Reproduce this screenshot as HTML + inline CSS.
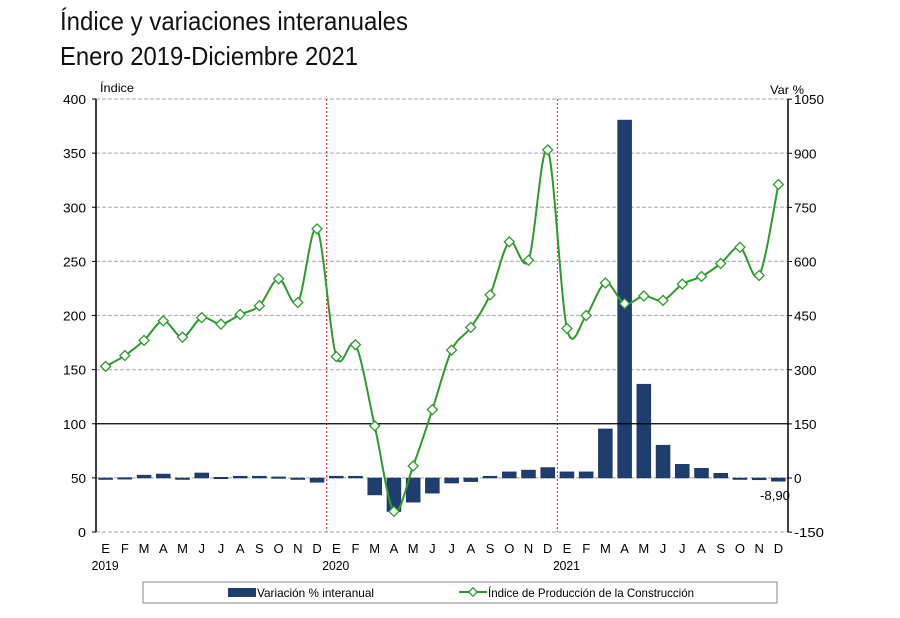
<!DOCTYPE html>
<html><head><meta charset="utf-8"><style>
html,body{margin:0;padding:0;background:#fff;}
svg{display:block;font-family:"Liberation Sans",Arial,sans-serif;}
</style></head><body>
<svg id="c" width="900" height="618" viewBox="0 0 900 618" xmlns="http://www.w3.org/2000/svg">
<text x="60" y="30" font-size="26" textLength="348" lengthAdjust="spacingAndGlyphs" fill="#111">Índice y variaciones interanuales</text>
<text x="60" y="65" font-size="26" textLength="298" lengthAdjust="spacingAndGlyphs" fill="#111">Enero 2019-Diciembre 2021</text>
<text x="100" y="92" font-size="12" textLength="34" lengthAdjust="spacingAndGlyphs">Índice</text>
<text x="770" y="94" font-size="12" textLength="34" lengthAdjust="spacingAndGlyphs">Var %</text>
<g id="g"></g>
</svg>
<script>
var ns="http://www.w3.org/2000/svg",g=document.getElementById('g');
function el(t,a,txt){var e=document.createElementNS(ns,t);for(var k in a)e.setAttribute(k,a[k]);if(txt!=null)e.textContent=txt;g.appendChild(e);return e;}
var X0=96,X1=788,W=(X1-X0)/36;
function yl(v){return 532-v*433/400;}
function yr(v){return 478-v*433/1200;}
function cx(i){return X0+W*(i+0.5);}
for(var v=0;v<=400;v+=50){
 if(v!=100)el('line',{x1:X0,x2:X1,y1:yl(v),y2:yl(v),stroke:'#b8b8b8','stroke-width':1.2,'stroke-dasharray':'4,2'});
 el('text',{x:86,y:yl(v)+5,'font-size':13,'text-anchor':'end',textLength:(v<100?(v==0?8:15):23),lengthAdjust:'spacingAndGlyphs'},String(v));
 el('line',{x1:X0-4,x2:X0,y1:yl(v),y2:yl(v),stroke:'#000'});
}
for(var r=-150;r<=1050;r+=150){
 el('text',{x:794,y:yr(r)+5,'font-size':13,textLength:(String(r).length*7.5),lengthAdjust:'spacingAndGlyphs'},String(r));
 el('line',{x1:X1,x2:X1+4,y1:yr(r),y2:yr(r),stroke:'#000'});
}
[12,24].forEach(function(i){var x=X0+W*i;el('line',{x1:x,x2:x,y1:99,y2:532,stroke:'#e02020','stroke-width':1,'stroke-dasharray':'2,2'});});
var b=[0,1,8,11,0,14,2,5,5,3,-4,-12, 5,5,-47,-93,-67,-42,-14,-10,5,17,22,29, 17,17,136,992,260,91,38,27,13,-2,-5,-8.9];
b.forEach(function(v,i){var y1=yr(Math.max(v,0)),y2=yr(Math.min(v,0));var h=Math.max(y2-y1,1.5);
 el('rect',{x:cx(i)-7,y:y1,width:14,height:h,fill:'#1f3d6e',stroke:'#15305a','stroke-width':0.5});});
el('line',{x1:X0,x2:X1,y1:yl(100),y2:yl(100),stroke:'#000','stroke-width':1.3});
el('line',{x1:X0,x2:X0,y1:99,y2:532,stroke:'#000','stroke-width':1.5});
el('line',{x1:X1,x2:X1,y1:99,y2:532,stroke:'#000','stroke-width':1.5});
var L=[153,163,177,195,180,198,192,201,209,234,212,280, 162,173,98,19,61,113,168,189,219,268,251,353, 188,200,230,211,218,214,229,236,248,263,237,321];
var P=L.map(function(v,i){return [cx(i),yl(v)];});
var d='M'+P[0][0]+','+P[0][1];
for(var i=0;i<P.length-1;i++){var p0=P[Math.max(i-1,0)],p1=P[i],p2=P[i+1],p3=P[Math.min(i+2,P.length-1)];var t=0.16;
 d+=' C'+(p1[0]+(p2[0]-p0[0])*t)+','+(p1[1]+(p2[1]-p0[1])*t)+' '+(p2[0]-(p3[0]-p1[0])*t)+','+(p2[1]-(p3[1]-p1[1])*t)+' '+p2[0]+','+p2[1];}
el('path',{d:d,fill:'none',stroke:'#2e9a2e','stroke-width':2});
P.forEach(function(p){el('rect',{x:p[0]-3.5,y:p[1]-3.5,width:7,height:7,fill:'#fff',stroke:'#2e9a2e','stroke-width':1.3,transform:'rotate(45 '+p[0]+' '+p[1]+')'});});
el('text',{x:760,y:500,'font-size':13,textLength:30,lengthAdjust:'spacingAndGlyphs'},'-8,90');
var m='EFMAMJJASOND';
for(var i=0;i<36;i++)el('text',{x:cx(i),y:553,'font-size':13,'text-anchor':'middle'},m[i%12]);
['2019','2020','2021'].forEach(function(y,k){el('text',{x:cx(k*12)-14,y:570,'font-size':13,textLength:27,lengthAdjust:'spacingAndGlyphs'},y);});
el('rect',{x:143,y:582,width:634,height:21,fill:'#fff',stroke:'#888','stroke-width':1});
el('rect',{x:228,y:588,width:28,height:9,fill:'#1f3d6e'});
el('text',{x:257,y:597,'font-size':12,textLength:117,lengthAdjust:'spacingAndGlyphs'},'Variación % interanual');
el('line',{x1:459,x2:487,y1:592,y2:592,stroke:'#2e9a2e','stroke-width':2});
el('rect',{x:470,y:589,width:6,height:6,fill:'#fff',stroke:'#2e9a2e','stroke-width':1.3,transform:'rotate(45 473 592)'});
el('text',{x:488,y:597,'font-size':12,textLength:206,lengthAdjust:'spacingAndGlyphs'},'Índice de Producción de la Construcción');
</script>
</body></html>
